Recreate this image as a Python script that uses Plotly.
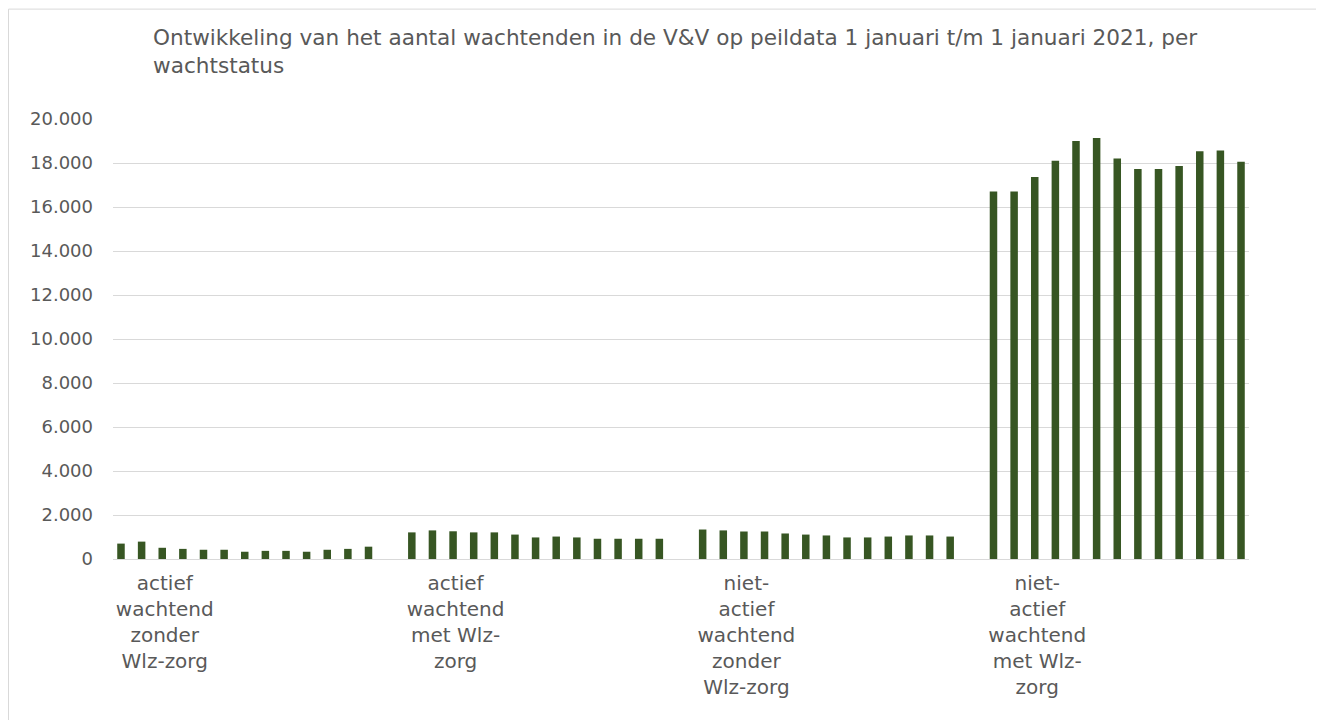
import plotly.graph_objects as go

categories = [
    "actief<br>wachtend<br>zonder<br>Wlz-zorg",
    "actief<br>wachtend<br>met Wlz-<br>zorg",
    "niet-<br>actief<br>wachtend<br>zonder<br>Wlz-zorg",
    "niet-<br>actief<br>wachtend<br>met Wlz-<br>zorg",
]
peildata = ["1-1-2020", "1-2-2020", "1-3-2020", "1-4-2020", "1-5-2020", "1-6-2020",
            "1-7-2020", "1-8-2020", "1-9-2020", "1-10-2020", "1-11-2020", "1-12-2020",
            "1-1-2021"]
actief_zonder = [700, 790, 510, 460, 420, 420, 330, 370, 370, 330, 420, 460, 560]
actief_met = [1210, 1300, 1260, 1210, 1210, 1110, 980, 1020, 980, 920, 920, 920, 920]
nietactief_zonder = [1340, 1300, 1250, 1250, 1160, 1110, 1070, 980, 980, 1020, 1070, 1070, 1020]
nietactief_met = [16710, 16710, 17360, 18100, 19000, 19140, 18210, 17730, 17730, 17860, 18530, 18570, 18060]

groups = [actief_zonder, actief_met, nietactief_zonder, nietactief_met]

fig = go.Figure()
for i, d in enumerate(peildata):
    fig.add_trace(go.Bar(
        x=categories,
        y=[g[i] for g in groups],
        name=d,
        marker=dict(color="#375623", line=dict(width=0)),
    ))

W, H = 1324, 720
OFF = 8  # page body margin
ml, mr, mt, mb = 113 - OFF, 75 + OFF, 118.5 - OFF, 161 + OFF
pw = W - ml - mr
ph = H - mt - mb

fig.update_layout(
    width=W, height=H,
    margin=dict(l=ml, r=mr, t=mt, b=mb, pad=0),
    paper_bgcolor="white", plot_bgcolor="white",
    barmode="group", bargap=0.078, bargroupgap=0.636,
    showlegend=False,
    separators=",.",
    font=dict(family="DejaVu Sans", color="#595959"),
    title=dict(
        text="Ontwikkeling van het aantal wachtenden in de V&V op peildata 1 januari t/m 1 januari 2021, per<br>wachtstatus",
        xref="container", yref="container",
        x=(153 - OFF) / W, xanchor="left",
        y=1 - 37 / H, yanchor="top",
        font=dict(family="DejaVu Sans", size=21.6, color="#595959"),
    ),
    xaxis=dict(
        type="category",
        range=[-0.453, 3.453],
        showgrid=False,
        showline=False,
        ticks="",
        tickfont=dict(size=20, color="#595959"),
        ticklabelshift=-80,
        ticklabelstandoff=10,
    ),
    yaxis=dict(
        range=[0, 20000],
        dtick=2000,
        tickformat=",d",
        showgrid=True, gridcolor="#d9d9d9", gridwidth=1,
        zeroline=True, zerolinecolor="#d9d9d9", zerolinewidth=1,
        showline=False,
        ticks="",
        tickfont=dict(size=18, color="#595959"),
        ticklabelstandoff=19,
    ),
)

# chart border
fig.add_shape(
    type="rect", xref="paper", yref="paper",
    x0=(0.5 - ml) / pw, x1=(W + 20 - ml) / pw,
    y0=-(H + 20 - mt - ph) / ph, y1=(mt + ph - 0.5) / ph,
    line=dict(color="#d9d9d9", width=1), fillcolor="rgba(0,0,0,0)",
    layer="below",
)

fig.write_html("out.html")
